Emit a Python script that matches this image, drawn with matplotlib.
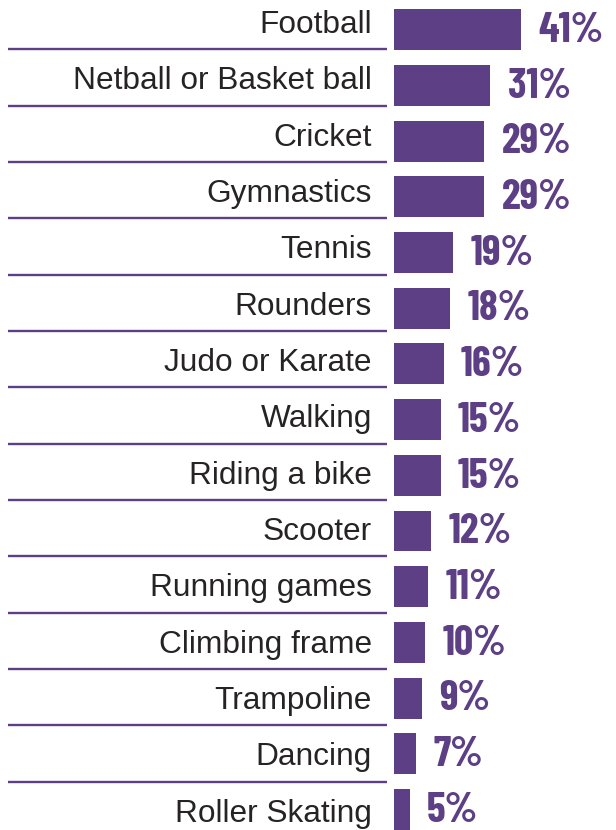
import matplotlib
matplotlib.use('Agg')
import matplotlib.pyplot as plt
from matplotlib.transforms import blended_transform_factory

sports = ['Football', 'Netball or Basket ball', 'Cricket', 'Gymnastics', 'Tennis',
          'Rounders', 'Judo or Karate', 'Walking', 'Riding a bike', 'Scooter',
          'Running games', 'Climbing frame', 'Trampoline', 'Dancing', 'Roller Skating']
pct = [41, 31, 29, 29, 19, 18, 16, 15, 15, 12, 11, 10, 9, 7, 5]

purple = '#5c3f84'
W, H = 616, 830

fig = plt.figure(figsize=(W / 100, H / 100), dpi=100)
ax = fig.add_axes([394 / W, 0, 1 - 394 / W, 1])
rows = list(range(len(sports)))
ax.barh(rows, pct, height=0.735, color=purple)
ax.set_xlim(0, 222 / 3.1)
ax.set_ylim((H - 29.7) / 55.7, -29.7 / 55.7)
ax.axis('off')

# labels + divider lines drift slightly vs. the bars in the original
tr = blended_transform_factory(ax.transAxes, ax.transData)
for i, (name, v) in enumerate(zip(sports, pct)):
    yt = 0.06 + 1.0115 * i
    ax.text((372 - 394) / 222, yt, name, transform=tr, ha='right', va='baseline',
            fontsize=22.8, family='Liberation Sans', color='#262324', clip_on=False)
    if i < len(sports) - 1:
        yl = 0.352 + 1.0115 * i
        ax.plot([(8 - 394) / 222, (387 - 394) / 222], [yl, yl], transform=tr,
                color=purple, lw=1.7, clip_on=False, solid_capstyle='butt')
    ax.annotate(f'{v}%', xy=(v, i), xytext=(12.6, 2), textcoords='offset points',
                ha='left', va='center_baseline', fontsize=30.5, fontweight='bold',
                family=['Barlow Condensed', 'DejaVu Sans'], color=purple)

plt.savefig('out.png', dpi=100)
